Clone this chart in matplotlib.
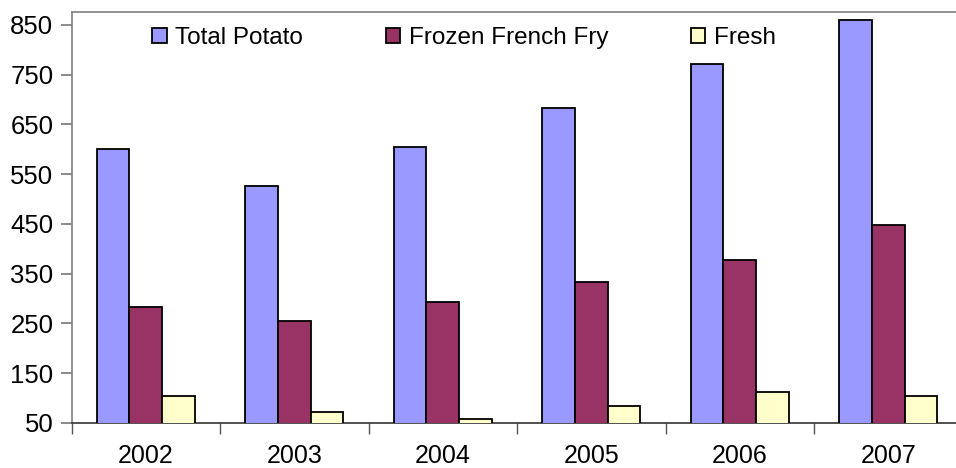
import numpy as np
import matplotlib.pyplot as plt
from matplotlib.ticker import FixedLocator

# data
years = ['2002', '2003', '2004', '2005', '2006', '2007']
total_potato = [600, 527, 604, 684, 772, 860]
frozen_fry = [283, 254, 294, 334, 378, 447]
fresh = [104, 73, 57, 85, 112, 105]

plt.rcParams['font.family'] = ['Liberation Sans', 'DejaVu Sans']

fig = plt.figure(figsize=(9.56, 4.68), dpi=100)
ax = fig.add_axes([0.0748, 0.0962, 0.932, 0.8782])

x = np.arange(len(years))
w = 0.22
kw = dict(width=w, edgecolor='black', linewidth=1.3, zorder=3)
ax.bar(x - w, total_potato, color='#9999FF', label='Total Potato', **kw)
ax.bar(x, frozen_fry, color='#993366', label='Frozen French Fry', **kw)
ax.bar(x + w, fresh, color='#FFFFCC', label='Fresh', **kw)

ax.set_xlim(-0.5, len(years) - 0.5)
ax.set_ylim(50, 876)
ax.set_yticks(np.arange(50, 851, 100))

# year labels centred, tick marks at the group boundaries
ax.set_xticks(x)
ax.set_xticklabels(years)
ax.xaxis.set_minor_locator(FixedLocator(np.arange(-0.5, len(years), 1)))
ax.tick_params(axis='x', which='major', length=0, pad=15, labelsize=18)
ax.tick_params(axis='x', which='minor', length=8, width=1, color='#555555')
ax.tick_params(axis='y', length=8, width=1.2, color='#777777', labelsize=18.5, pad=5)

for s in ax.spines.values():
    s.set_color('#808080')
    s.set_linewidth(1.2)
ax.spines['bottom'].set_color('#333333')

ax.legend(loc='center left', bbox_to_anchor=(152 / 956, 1 - 38 / 468),
          bbox_transform=fig.transFigure, ncol=3, frameon=False,
          fontsize=17.5, handlelength=0.6, handleheight=0.6,
          handletextpad=0.35, columnspacing=3.4, borderaxespad=0,
          borderpad=0)

fig.savefig('out.png', dpi=100)
